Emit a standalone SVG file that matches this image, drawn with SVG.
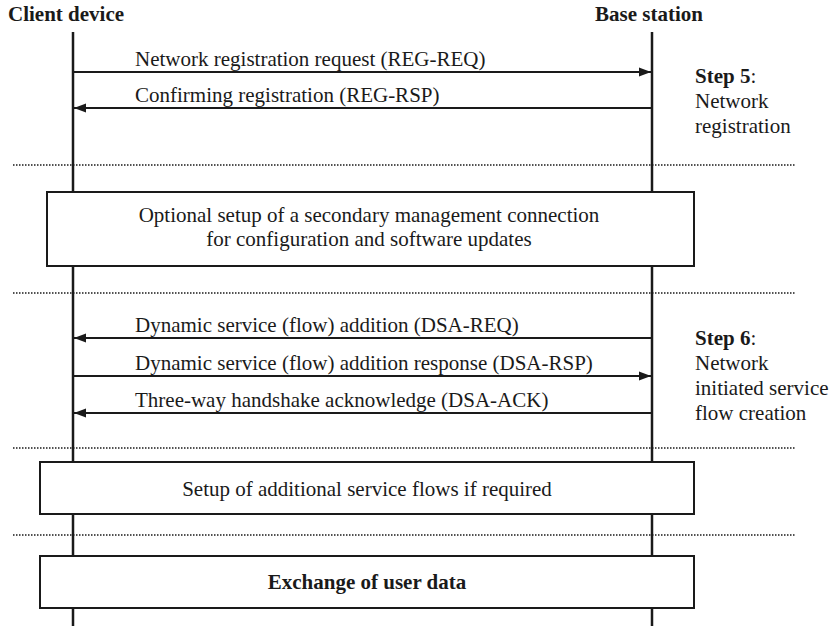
<svg xmlns="http://www.w3.org/2000/svg" width="832" height="626" viewBox="0 0 832 626">
<defs>
<marker id="ah" viewBox="0 0 12 10" refX="12" refY="5" markerWidth="12" markerHeight="10" markerUnits="userSpaceOnUse" orient="auto">
<path d="M0,0.5 L12,5 L0,9.5 z" fill="#1a1a1a"/>
</marker>
<style>
text{font-family:"Liberation Serif","Times New Roman",serif;fill:#1a1a1a;font-size:21px}
.b{font-weight:bold}
.life{stroke:#1a1a1a;stroke-width:2.5;fill:none}
.msg{stroke:#1a1a1a;stroke-width:2;fill:none;marker-end:url(#ah)}
.sep{stroke:#1a1a1a;stroke-width:1.5;stroke-dasharray:1.5 1.5;fill:none}
.box rect{fill:#fff;stroke:#1a1a1a;stroke-width:2}
</style>
</defs>
<rect width="832" height="626" fill="#fff"/>
<g id="client"><text class="b" x="8" y="21">Client device</text><line class="life" x1="73" y1="32" x2="73" y2="626"/></g>
<g id="base"><text class="b" x="595" y="21">Base station</text><line class="life" x1="652" y1="32" x2="652" y2="626"/></g>
<g id="separators">
<line class="sep" x1="13" y1="165" x2="795" y2="165"/>
<line class="sep" x1="13" y1="293" x2="795" y2="293"/>
<line class="sep" x1="13" y1="448" x2="795" y2="448"/>
<line class="sep" x1="13" y1="535" x2="795" y2="535"/>
</g>
<g id="connectors">
<line class="msg" x1="73" y1="72" x2="651" y2="72"/>
<line class="msg" x1="652" y1="108" x2="74" y2="108"/>
<line class="msg" x1="652" y1="338" x2="74" y2="338"/>
<line class="msg" x1="73" y1="376" x2="651" y2="376"/>
<line class="msg" x1="652" y1="413" x2="74" y2="413"/>
</g>
<g id="labels">
<text x="135" y="66">Network registration request (REG-REQ)</text>
<text x="135" y="102">Confirming registration (REG-RSP)</text>
<text x="135" y="332">Dynamic service (flow) addition (DSA-REQ)</text>
<text x="135" y="370">Dynamic service (flow) addition response (DSA-RSP)</text>
<text x="135" y="407">Three-way handshake acknowledge (DSA-ACK)</text>
</g>
<g id="step5"><text x="695" y="83"><tspan class="b">Step 5</tspan>:</text><text x="695" y="108">Network</text><text x="695" y="133">registration</text></g>
<g id="step6"><text x="695" y="345"><tspan class="b">Step 6</tspan>:</text><text x="695" y="370">Network</text><text x="695" y="395">initiated service</text><text x="695" y="420">flow creation</text></g>
<g id="box1" class="box"><rect x="47" y="192" width="647" height="74"/><text x="369" y="222" text-anchor="middle">Optional setup of a secondary management connection</text><text x="369" y="246" text-anchor="middle">for configuration and software updates</text></g>
<g id="box2" class="box"><rect x="40" y="462" width="654" height="52"/><text x="367" y="496" text-anchor="middle">Setup of additional service flows if required</text></g>
<g id="box3" class="box"><rect x="40" y="556" width="654" height="52"/><text class="b" x="367" y="589" text-anchor="middle">Exchange of user data</text></g>
</svg>
